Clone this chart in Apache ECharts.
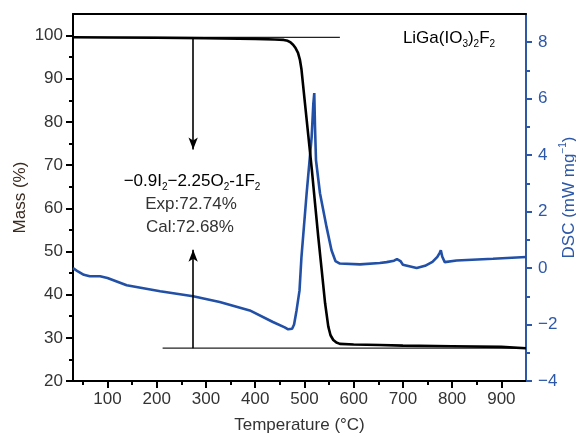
<!DOCTYPE html>
<html>
<head>
<meta charset="utf-8">
<script src="https://cdn.jsdelivr.net/npm/echarts@6/dist/echarts.min.js"></script>
<style>
  html, body { margin: 0; padding: 0; background: #fff; }
  #chart { width: 576px; height: 437px; }
</style>
</head>
<body>
<div id="chart"></div>
<script>
// TG (mass) curve
const massTemp = [30, 100, 200, 300, 400, 440, 458, 466, 472, 477, 482, 487, 491, 494, 501, 508, 515, 521.5, 528, 535, 542, 548.5, 553, 558.6, 565, 572, 600, 653, 700, 800, 900, 950]
const massVals = [99.6, 99.55, 99.5, 99.4, 99.25, 99.1, 99.0, 98.8, 98.4, 97.9, 97.1, 96.0, 94.3, 92.2, 84.4, 76.7, 69.0, 61.2, 53.5, 45.8, 38.0, 32.6, 30.6, 29.5, 28.9, 28.6, 28.45, 28.35, 28.2, 28.05, 27.9, 27.6]

// DSC curve
const dscTemp = [30, 40, 52, 64, 85, 100, 139, 207, 274, 328, 389, 436, 460, 467, 471, 475, 479, 484, 490, 494, 504.5, 514.7, 518, 520, 521.5, 523.5, 531.6, 545, 555, 563, 572, 613, 653, 667, 682, 688, 691, 695, 700, 704, 728, 745, 760, 770, 775, 777, 780, 785, 809, 883, 950]
const dscVals = [0.0, -0.12, -0.24, -0.29, -0.29, -0.35, -0.61, -0.82, -1.0, -1.2, -1.5, -1.91, -2.1, -2.17, -2.2, -2.15, -2.0, -1.5, -0.8, 0.4, 2.65, 4.65, 5.8, 6.2, 5.0, 3.82, 2.65, 1.45, 0.63, 0.25, 0.16, 0.13, 0.18, 0.21, 0.26, 0.32, 0.36, 0.25, 0.12, 0.06, 0.0, 0.08, 0.22, 0.4, 0.55, 0.63, 0.4, 0.21, 0.27, 0.33, 0.39]

// guide lines and arrows (temperature, mass)
const topLine = [[30, 99.6], [572, 99.6]]
const bottomLine = [[212, 27.6], [950, 27.6]]
const arrowT = 274
const downArrow = [99.6, 73.6]
const upArrow = [27.6, 50.4]

// ticks
const xMajor = [100, 200, 300, 400, 500, 600, 700, 800, 900]
const xMinor = [50, 150, 250, 350, 450, 550, 650, 750, 850]
const massMajor = [20, 30, 40, 50, 60, 70, 80, 90, 100]
const massMinor = [25, 35, 45, 55, 65, 75, 85, 95]
const dscMajor = [-4, -2, 0, 2, 4, 6, 8]
const dscMinor = [-3, -1, 1, 3, 5, 7]

const FONT = 'Liberation Sans, Arial, sans-serif'
const BLUE = '#2150a6'
const AXIS_BLUE = '#2d58a8'
const minus = v => String(v).replace('-', '\u2212')

const chart = echarts.init(document.getElementById('chart'))

const sub = { fontSize: 10, fontFamily: FONT, color: '#333', lineHeight: 10, verticalAlign: 'bottom' }
const main = { fontSize: 17, fontFamily: FONT, color: '#333', lineHeight: 22 }

chart.setOption({
  animation: false,
  grid: { left: 73, right: 50, top: 14, bottom: 56, containLabel: false, outerBoundsMode: 'none' },
  xAxis: [
    {
      type: 'value', min: 30, max: 950, position: 'bottom',
      axisLine: { onZero: false, lineStyle: { color: '#000', width: 2 } },
      axisTick: { customValues: xMajor, length: 7, lineStyle: { color: '#000', width: 2 } },
      axisLabel: { customValues: xMajor, fontSize: 17, fontFamily: FONT, color: '#333', margin: 10 },
      splitLine: { show: false },
      name: 'Temperature (°C)', nameLocation: 'middle', nameGap: 36, nameMoveOverlap: false,
      nameTextStyle: { fontSize: 17, fontFamily: FONT, color: '#333' }
    },
    {
      type: 'value', min: 30, max: 950, position: 'bottom',
      axisLine: { show: false, onZero: false },
      axisTick: { customValues: xMinor, length: 4, lineStyle: { color: '#000', width: 2 } },
      axisLabel: { show: false },
      splitLine: { show: false }
    },
    {
      type: 'value', min: 30, max: 950, position: 'top',
      axisLine: { onZero: false, lineStyle: { color: '#000', width: 2 } },
      axisTick: { show: false }, axisLabel: { show: false }, splitLine: { show: false }
    }
  ],
  yAxis: [
    {
      type: 'value', min: 20, max: 105, position: 'left',
      axisLine: { show: true, onZero: false, lineStyle: { color: '#000', width: 2 } },
      axisTick: { show: true, customValues: massMajor, length: 7, lineStyle: { color: '#000', width: 2 } },
      axisLabel: { customValues: massMajor, fontSize: 17, fontFamily: FONT, color: '#333', margin: 10 },
      splitLine: { show: false },
      name: 'Mass (%)', nameLocation: 'middle', nameGap: 44, nameRotate: 90, nameMoveOverlap: false,
      nameTextStyle: { fontSize: 17, fontFamily: FONT, color: '#3a2a20' }
    },
    {
      type: 'value', min: 20, max: 105, position: 'left',
      axisLine: { show: false, onZero: false },
      axisTick: { show: true, customValues: massMinor, length: 4, lineStyle: { color: '#000', width: 2 } },
      axisLabel: { show: false }, splitLine: { show: false }
    },
    {
      type: 'value', min: -4, max: 9, position: 'right',
      axisLine: { show: true, onZero: false, lineStyle: { color: AXIS_BLUE, width: 2 } },
      axisTick: { show: true, customValues: dscMajor, length: 6, lineStyle: { color: AXIS_BLUE, width: 2 } },
      axisLabel: { customValues: dscMajor, fontSize: 17, fontFamily: FONT, color: AXIS_BLUE, margin: 12, formatter: minus },
      splitLine: { show: false },
      name: 'DSC (mW mg{sup|\u22121})', nameLocation: 'middle', nameGap: 32, nameRotate: 90, nameMoveOverlap: false,
      nameTextStyle: {
        fontSize: 17, fontFamily: FONT, color: AXIS_BLUE, lineHeight: 22,
        rich: { sup: { fontSize: 10, fontFamily: FONT, color: AXIS_BLUE, lineHeight: 10, verticalAlign: 'top' } }
      }
    },
    {
      type: 'value', min: -4, max: 9, position: 'right',
      axisLine: { show: false, onZero: false },
      axisTick: { show: true, customValues: dscMinor, length: 4, lineStyle: { color: AXIS_BLUE, width: 2 } },
      axisLabel: { show: false }, splitLine: { show: false }
    }
  ],
  series: [
    {
      name: 'top', type: 'line', xAxisIndex: 0, yAxisIndex: 0, data: topLine,
      symbol: 'none', lineStyle: { color: '#222', width: 1.2 }, silent: true
    },
    {
      name: 'bottom', type: 'line', xAxisIndex: 0, yAxisIndex: 0, data: bottomLine,
      symbol: 'none', lineStyle: { color: '#222', width: 1.2 }, silent: true
    },
    {
      name: 'DSC', type: 'line', xAxisIndex: 0, yAxisIndex: 2,
      data: dscTemp.map((t, i) => [t, dscVals[i]]),
      symbol: 'none', lineStyle: { color: BLUE, width: 2.6 }, z: 3
    },
    {
      name: 'Mass', type: 'line', xAxisIndex: 0, yAxisIndex: 0,
      data: massTemp.map((t, i) => [t, massVals[i]]),
      symbol: 'none', lineStyle: { color: '#000', width: 2.6 }, z: 4,
      markLine: {
        silent: true,
        symbol: ['none', 'arrow'],
        symbolSize: [7, 12],
        label: { show: false },
        lineStyle: { color: '#000', width: 1.6, type: 'solid' },
        data: [
          [{ coord: [arrowT, downArrow[0]] }, { coord: [arrowT, downArrow[1]] }],
          [{ coord: [arrowT, upArrow[0]] }, { coord: [arrowT, upArrow[1]] }]
        ]
      }
    }
  ],
  graphic: [
    {
      type: 'text', x: 192, y: 181,
      style: {
        text: '{m|\u22120.9I}{s|2}{m|\u22122.25O}{s|2}{m|-1F}{s|2}',
        align: 'center', verticalAlign: 'middle',
        rich: { m: main, s: sub }
      }
    },
    {
      type: 'text', x: 191, y: 204,
      style: { text: 'Exp:72.74%', align: 'center', verticalAlign: 'middle', font: '17px ' + FONT, fill: '#333' }
    },
    {
      type: 'text', x: 190, y: 227,
      style: { text: 'Cal:72.68%', align: 'center', verticalAlign: 'middle', font: '17px ' + FONT, fill: '#333' }
    },
    {
      type: 'text', x: 449, y: 38,
      style: {
        text: '{m|LiGa(IO}{s|3}{m|)}{s|2}{m|F}{s|2}',
        align: 'center', verticalAlign: 'middle',
        rich: { m: main, s: sub }
      }
    }
  ]
})
</script>
</body>
</html>
